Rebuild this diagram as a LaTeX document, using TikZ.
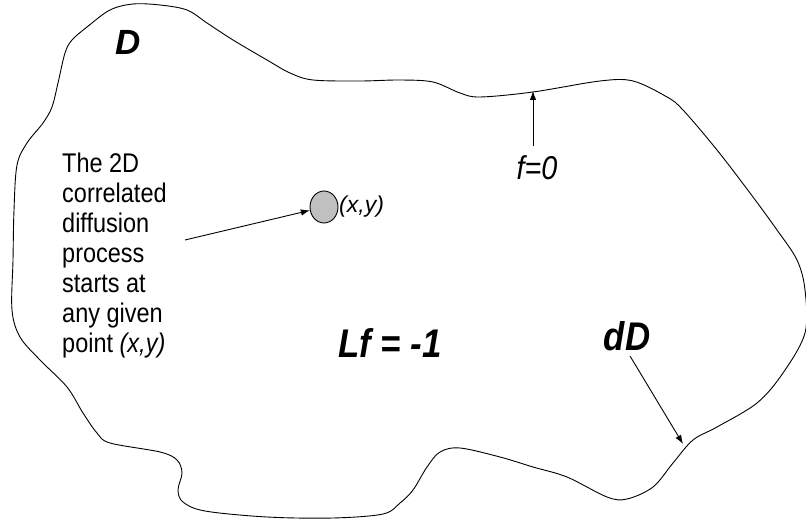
\documentclass[tikz,border=0pt]{standalone}
\usepackage{fontspec}
\setmainfont{Liberation Sans}
\newfontfamily\narrowsf[FakeStretch=0.87]{Liberation Sans}
\usetikzlibrary{arrows.meta,shapes.geometric}

\tikzset{
  boundary/.style={line width=0.9pt, black},
  pointer/.style={line width=0.9pt, -{Latex[length=9pt,width=6.5pt]}},
  bodytext/.style={inner sep=0pt, align=left, font=\narrowsf\fontsize{27}{30}\selectfont},
  biglabel/.style={inner sep=0pt, font=\narrowsf\bfseries\itshape\fontsize{40}{40}\selectfont},
}

\begin{document}
\begin{tikzpicture}[x=1pt, y=-1pt]
  \useasboundingbox (0,0) rectangle (806,521);

  % the domain D and its boundary dD
  \draw[boundary] plot[smooth cycle, tension=0.55] coordinates {
    (133,4) (160,5) (187,10) (207,23) (233,40) (267,60) (290,73) (313,80)
    (360,81) (400,80) (433,82) (460,93) (480,97) (533,92) (600,81) (633,81)
    (667,97) (683,110) (717,150) (750,193) (777,230) (797,260) (805,290)
    (805,333) (783,373) (757,403) (717,427) (693,440) (673,463) (653,487)
    (627,499) (607,497) (567,477) (533,467) (500,457) (460,448) (440,452)
    (427,467) (413,490) (400,503) (383,514) (333,518) (267,517) (205,511)
    (183,502) (178,490) (182,473) (177,460) (160,452) (110,443) (97,433)
    (83,413) (67,387) (40,360) (20,337) (12,310) (13,260) (14,210) (17,165)
    (27,143) (43,123) (52,107) (58,83) (65,53) (72,40) (87,27) (110,10)
  };

  % labels
  \node[anchor=base, inner sep=0pt, font=\bfseries\itshape\fontsize{35}{35}\selectfont]
    (dom) at (128,55) {D};
  \node[biglabel, anchor=base] (eq) at (390,357) {Lf = -1};
  \node[biglabel, anchor=base] (bd) at (627,351) {dD};
  \node[anchor=base, inner sep=0pt, font=\narrowsf\itshape\fontsize{33}{33}\selectfont]
    (f0) at (537,180) {f=0};

  \node[bodytext, anchor=north west] (txt) at (62,153)
    {The 2D\\correlated\\diffusion\\process\\starts at\\any given\\point \textit{(x,y)}};

  % starting point
  \node[ellipse, draw, line width=0.9pt, fill={rgb,255:red,192;green,192;blue,192},
        minimum width=28pt, minimum height=32pt, inner sep=0pt] (pt) at (324,207) {};
  \node[anchor=west, inner sep=0pt, font=\itshape\fontsize{23}{23}\selectfont]
    (ptlabel) at (339,207) {(x,y)};

  % pointer ends
  \coordinate (txtend) at (185,240);
  \coordinate (ftop) at (533,146);
  \coordinate (fhit) at (533,91);
  \coordinate (dstart) at (630,356);
  \coordinate (dhit) at (683,444);

  \draw[pointer] (txtend) -- (pt);
  \draw[pointer] (ftop) -- (fhit);
  \draw[pointer] (dstart) -- (dhit);
\end{tikzpicture}
\end{document}
